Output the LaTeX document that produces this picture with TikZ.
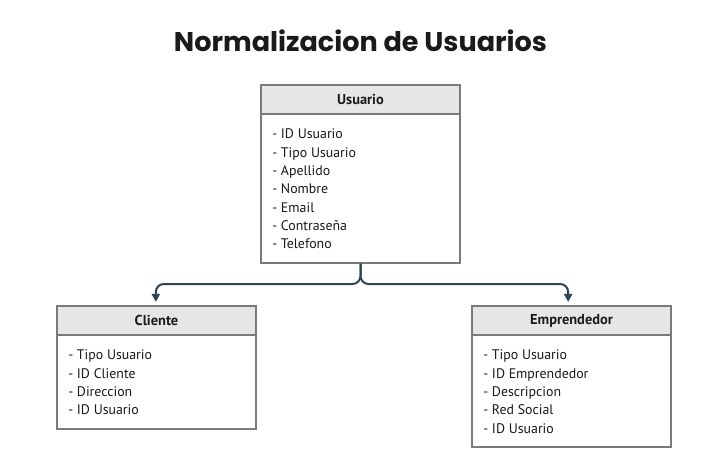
\documentclass[tikz,border=0pt]{standalone}
\usepackage{fontspec}
\setmainfont{PT Sans}
\newfontfamily\titlefont{Poppins}
\usetikzlibrary{arrows.meta}
\definecolor{boxline}{HTML}{7A7A7A}
\definecolor{hdrfill}{HTML}{E6E6E6}
\definecolor{conncol}{HTML}{2D4656}
\definecolor{txt}{HTML}{1A1A1A}
\tikzset{
  hdr/.style={draw=boxline, fill=hdrfill, line width=1.1pt, minimum width=149.25pt, minimum height=21.75pt, inner sep=0pt, font=\fontsize{10.8}{12}\selectfont\bfseries, text=txt},
  bodybox/.style={draw=boxline, fill=white, line width=1.1pt, minimum width=149.25pt, inner sep=0pt},
  item/.style={anchor=base west, inner sep=0pt, font=\fontsize{10.4}{12}\selectfont, text=txt},
  conn/.style={draw=conncol, line width=1.5pt, rounded corners=6pt, -{Triangle[width=6pt,length=6pt]}, shorten >=2.5pt},
}
\begin{document}
\begin{tikzpicture}[x=0.75pt,y=-0.75pt]
\path[use as bounding box, fill=white] (0,0) rectangle (721,461);
\node[font=\titlefont\bfseries\fontsize{20.3}{23}\selectfont, text=txt] (title) at (360.5,41) {Normalizacion de Usuarios};
% Usuario
\node[bodybox, minimum height=111.75pt] (ub) at (360.5,188.5) {};
\node[hdr] (uh) at (360.5,99.5) {Usuario};
\foreach \t [count=\i] in {ID Usuario, Tipo Usuario, Apellido, Nombre, Email, Contraseña, Telefono}
  \node[item] (u\i) at (272,{138.8+18.3*(\i-1)}) {- \t};
% Cliente
\node[bodybox, minimum height=70.5pt] (cb) at (156.5,382) {};
\node[hdr] (ch) at (156.5,320.5) {Cliente};
\foreach \t [count=\i] in {Tipo Usuario, ID Cliente, Direccion, ID Usuario}
  \node[item] (c\i) at (68,{359.8+18.3*(\i-1)}) {- \t};
% Emprendedor
\node[bodybox, minimum height=84pt] (eb) at (571.5,391) {};
\node[hdr] (eh) at (571.5,320.5) {Emprendedor};
\foreach \t [count=\i] in {Tipo Usuario, ID Emprendedor, Descripcion, Red Social, ID Usuario}
  \node[item] (e\i) at (483,{359.8+18.3*(\i-1)}) {- \t};
% connectors
\coordinate (cj) at (360,284);
\draw[conn] (ub.south) |- ([xshift=-0.5]ch.north |- cj) -- ([xshift=-0.5]ch.north);
\draw[conn] (ub.south) |- ([xshift=-2.5]eh.north |- cj) -- ([xshift=-2.5]eh.north);
\end{tikzpicture}
\end{document}
